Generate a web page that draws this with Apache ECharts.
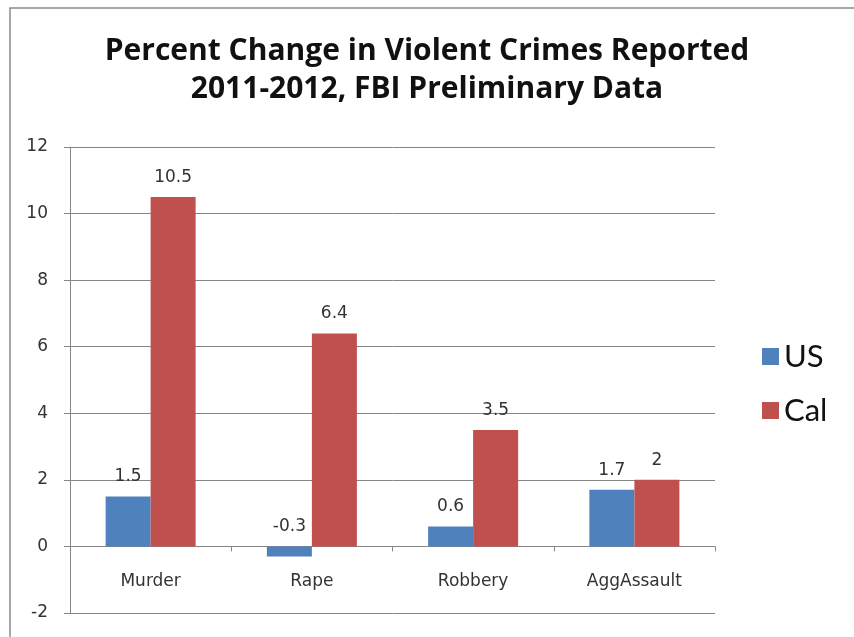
<!DOCTYPE html>
<html>
<head>
<meta charset="utf-8">
<script src="https://cdn.jsdelivr.net/npm/echarts@6/dist/echarts.min.js"></script>
<style>
html,body{margin:0;padding:0;background:#fff;}
#chart{width:854px;height:637px;}
</style>
</head>
<body>
<div id="chart"></div>
<script>
const categories = ['Murder', 'Rape', 'Robbery', 'AggAssault'];
const usValues = [1.5, -0.3, 0.6, 1.7];
const calValues = [10.5, 6.4, 3.5, 2];
const seriesNames = ['US', 'Cal'];
const titleLines = ['Percent Change in Violent Crimes Reported', '2011-2012, FBI Preliminary Data'];

const chart = echarts.init(document.getElementById('chart'));
const labelStyle = {
  show: true,
  position: 'top',
  distance: 11,
  fontFamily: 'DejaVu Sans',
  fontSize: 17,
  color: '#333'
};
chart.setOption({
  animation: false,
  backgroundColor: '#fff',
  graphic: [{
    type: 'rect',
    shape: { x: 10, y: 8, width: 900, height: 700 },
    style: { fill: 'none', stroke: '#8a8a8a', lineWidth: 1.5 },
    silent: true
  }],
  title: {
    text: titleLines.join('\n'),
    left: 'center',
    top: 27,
    textStyle: {
      fontFamily: 'Open Sans',
      fontWeight: 'bold',
      fontSize: 30,
      lineHeight: 38,
      color: '#111'
    }
  },
  legend: {
    orient: 'vertical',
    left: 757,
    top: 336,
    itemWidth: 17,
    itemHeight: 17,
    itemGap: 23,
    icon: 'rect',
    textStyle: { fontFamily: 'Lato', fontSize: 31, lineHeight: 30, color: '#111', padding: [0, 0, 0, 0] },
    data: seriesNames
  },
  grid: { left: 70, right: 139, top: 147, bottom: 24, outerBoundsMode: 'none' },
  xAxis: [{
    type: 'category',
    data: categories,
    axisLine: { onZero: true, lineStyle: { color: '#868686', width: 1 } },
    axisTick: { show: true, length: 5, lineStyle: { color: '#868686' } },
    axisLabel: { show: false }
  }, {
    type: 'category',
    data: categories,
    position: 'bottom',
    offset: -65,
    axisLine: { show: false },
    axisTick: { show: false },
    splitLine: { show: false },
    axisLabel: { margin: 25, fontFamily: 'DejaVu Sans', fontSize: 17, color: '#333' }
  }],
  yAxis: {
    type: 'value',
    min: -2,
    max: 12,
    interval: 2,
    axisLine: { show: true, lineStyle: { color: '#868686', width: 1 } },
    axisTick: { show: true, length: 6, lineStyle: { color: '#868686' } },
    axisLabel: { margin: 22, fontFamily: 'DejaVu Sans', fontSize: 17, color: '#333' },
    splitLine: { lineStyle: { color: '#868686', width: 1 } }
  },
  series: [
    {
      name: seriesNames[0],
      type: 'bar',
      data: usValues,
      barWidth: 45,
      barGap: '0%',
      itemStyle: { color: '#4F81BD' },
      label: labelStyle
    },
    {
      name: seriesNames[1],
      type: 'bar',
      data: calValues,
      barWidth: 45,
      barGap: '0%',
      itemStyle: { color: '#C0504D' },
      label: labelStyle
    }
  ]
});
</script>
</body>
</html>
